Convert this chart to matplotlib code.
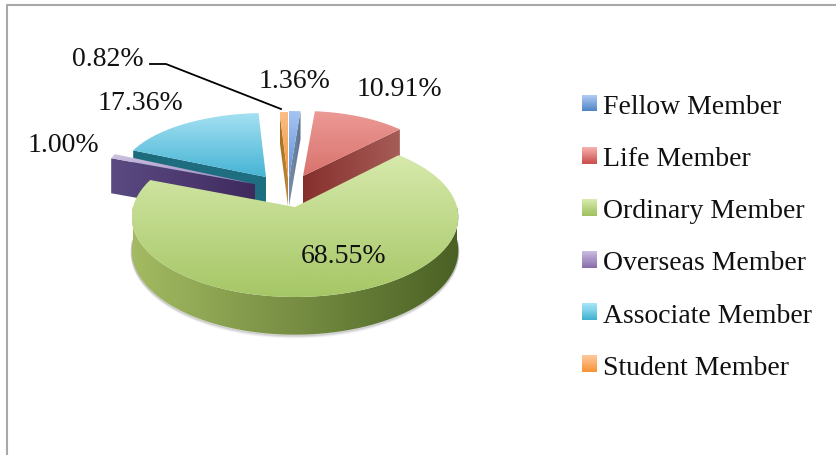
import numpy as np
import matplotlib
matplotlib.use("Agg")
import matplotlib.pyplot as plt
from matplotlib.patches import Polygon, Rectangle
from matplotlib.legend_handler import HandlerBase
from matplotlib.colors import to_rgb

categories = ["Fellow Member", "Life Member", "Ordinary Member",
              "Overseas Member", "Associate Member", "Student Member"]
values = [1.36, 10.91, 68.55, 1.00, 17.36, 0.82]
value_labels = ["1.36%", "10.91%", "68.55%", "1.00%", "17.36%", "0.82%"]

# geometry / style per slice (pixels)
apex_x = [289, 303, 295, 255, 266, 288]
apex_y = [179, 177, 208, 185, 178, 179]
rad_x = [135, 139, 162, 154, 146, 165]
rad_y = [67, 65, 78.75, 72, 64, 66]
persp = [0, 0, 0.125, 0, 0, 0]
depth = [28, 30, 33, 35, 28, 28]
top_light = ["#a6c4f2", "#ec9995", "#d6e9ab", "#cfc3e2", "#a4e0f2", "#fbbd82"]
top_dark = ["#5f90d2", "#d9736e", "#a6c766", "#9d86bd", "#45b4d4", "#f2963c"]
wall_left = ["#7b8ea8", "#86302c", "#a3ba62", "#5b4a82", "#1d6c7e", "#a87020"]
wall_right = ["#5e7392", "#a65c57", "#4a6124", "#3f2a5e", "#1f6f82", "#c08a40"]
legend_light = ["#afc9f5", "#f6b0ad", "#d8ebac", "#c9bbe0", "#a6e6f8", "#fdc596"]
legend_dark = ["#4f86c6", "#cc5350", "#a0c060", "#8a6cab", "#3fb0cf", "#f79434"]
draw_order = [4, 5, 0, 1, 3, 2]
label_x = [295, 399, 344, 63, 140, 108]
label_y = [81, 90, 257, 146, 104, 59]
leader_x = [150, 166, 281]
leader_y = [65, 65, 110]

W, H = 836, 456
fig = plt.figure(figsize=(W / 100, H / 100), dpi=100, facecolor="white")
ax = fig.add_axes([0, 0, 1, 1])
ax.axis("off")
font = "Liberation Serif"


def project(i, theta, dy=0.0):
    z = -np.cos(theta)
    s = 1 / (1 - persp[i] * z)
    return (apex_x[i] + rad_x[i] * s * np.sin(theta),
            apex_y[i] + rad_y[i] * s * z + dy * s)


def apex_pt(i, dy=0.0):
    return apex_x[i], apex_y[i] + dy


def gradient_fill(pts, c0, c1, horizontal, zorder):
    pts = np.asarray(pts)
    x0, x1 = pts[:, 0].min(), pts[:, 0].max()
    y0, y1 = pts[:, 1].min(), pts[:, 1].max()
    t = np.linspace(0, 1, 64)
    col = np.outer(1 - t, to_rgb(c0)) + np.outer(t, to_rgb(c1))
    img = col[None, :, :] if horizontal else col[:, None, :]
    im = ax.imshow(img, extent=(x0, x1, y1, y0), aspect="auto",
                   origin="upper", zorder=zorder, interpolation="bilinear")
    im.set_clip_path(Polygon(pts, closed=True, transform=ax.transData))


edges = np.concatenate([[0], np.cumsum(values)]) / sum(values) * 2 * np.pi

for rank, i in enumerate(draw_order):
    a0, a1 = edges[i], edges[i + 1]
    z = 10 + rank * 3
    d = depth[i]
    if i == 2:  # soft shadow below the large slice
        th = np.linspace(np.pi / 2, 3 * np.pi / 2, 120)
        for grow, alpha in ((2.4, .07), (1.4, .12), (0.6, .2)):
            p = np.array([project(i, t, d + grow) for t in th])
            ax.plot(p[:, 0], p[:, 1], color="#555555", alpha=alpha, lw=1.4,
                    zorder=z - 1)
    # radial walls facing the viewer
    for ang, visible in ((a0, np.sin(a0) < -1e-6), (a1, np.sin(a1) > 1e-6)):
        if visible:
            quad = [apex_pt(i), project(i, ang), project(i, ang, d), apex_pt(i, d)]
            gradient_fill(quad, wall_left[i], wall_right[i], True, z)
    # outer arc wall
    lo, hi = max(a0, np.pi / 2), min(a1, 3 * np.pi / 2)
    if hi > lo:
        th = np.linspace(lo, hi, 160)
        upper = [project(i, t) for t in th]
        lower = [project(i, t, d) for t in th[::-1]]
        gradient_fill(upper + lower, wall_left[i], wall_right[i], True, z)
    # top face
    th = np.linspace(a0, a1, 200)
    top = [apex_pt(i)] + [project(i, t) for t in th]
    gradient_fill(top, top_light[i], top_dark[i], False, z + 1)

for i, lab in enumerate(value_labels):
    ax.text(label_x[i], label_y[i], lab, fontsize=20, family=font,
            ha="center", va="center", color="#111111", zorder=60)

ax.plot(leader_x, leader_y, color="black", lw=1.3, zorder=55)


class GradientHandler(HandlerBase):
    def __init__(self, c0, c1):
        super().__init__()
        self.c0, self.c1 = np.array(to_rgb(c0)), np.array(to_rgb(c1))

    def create_artists(self, legend, orig, xd, yd, width, height, fontsize, trans):
        n = 16
        out = []
        for k in range(n):
            t = k / (n - 1)
            out.append(Rectangle((-xd, -yd + height * (1 - (k + 1) / n)), width,
                                 height / n * 1.1, transform=trans, lw=0,
                                 facecolor=(1 - t) * self.c0 + t * self.c1))
        return out


handles = [Rectangle((0, 0), 1, 1) for _ in categories]
hmap = {h: GradientHandler(legend_light[i], legend_dark[i]) for i, h in enumerate(handles)}
leg = ax.legend(handles, categories, handler_map=hmap, loc="upper left",
                bbox_to_anchor=(582, 95), bbox_transform=ax.transData,
                frameon=False, borderpad=0, borderaxespad=0,
                prop={"family": font, "size": 20}, labelspacing=0.977,
                handlelength=0.54, handleheight=0.54, handletextpad=0.22)
leg.set_zorder(60)
for t in leg.get_texts():
    t.set_color("#111111")

# chart frame: only left and top are inside the picture
ax.plot([7, 7, W + 5], [H + 5, 5.5, 5.5], color="#a8a8a8", lw=1.5, zorder=70,
        clip_on=False)

ax.set_xlim(0, W)
ax.set_ylim(H, 0)
fig.savefig("out.png", dpi=100, facecolor="white")
